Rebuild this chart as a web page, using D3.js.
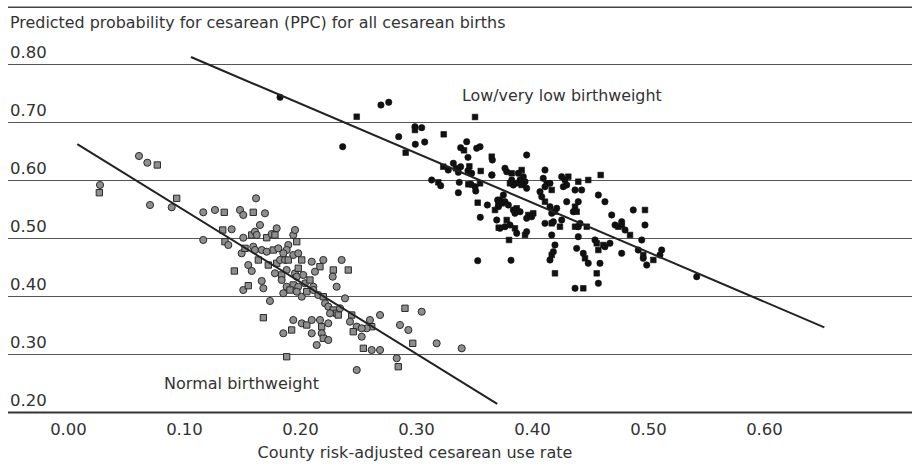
<!DOCTYPE html>
<html><head><meta charset="utf-8">
<script src="https://cdn.jsdelivr.net/npm/d3@7/dist/d3.min.js"></script>
<style>body{margin:0;background:#fff}svg{display:block}text{font-family:"DejaVu Sans",sans-serif;fill:#333}</style>
</head><body><svg id="c" width="912" height="466"></svg>
<script>
const title = "Predicted probability for cesarean (PPC) for all cesarean births";
const xTitle = "County risk-adjusted cesarean use rate";
const xTicks = [0, 0.1, 0.2, 0.3, 0.4, 0.5, 0.6];
const yTicks = [0.2, 0.3, 0.4, 0.5, 0.6, 0.7, 0.8];
const seriesNames = ["Low/very low birthweight", "Normal birthweight"];
const lowFit = [[0.106, 0.812], [0.652, 0.346]];
const normalFit = [[0.008, 0.662], [0.370, 0.214]];
const lowPoints = [
[0.1828,0.7426],[0.2489,0.7091],[0.2698,0.7293],[0.2765,0.7340],[0.3509,0.7086],[0.2368,0.6574],
[0.2991,0.6919],[0.2991,0.6862],[0.3049,0.6902],[0.2851,0.6747],[0.3239,0.6788],[0.2994,0.6616],
[0.3075,0.6655],[0.2911,0.6471],[0.3437,0.6660],[0.3385,0.6557],[0.3414,0.6512],[0.3523,0.6547],
[0.3552,0.6574],[0.3653,0.6402],[0.3658,0.6345],[0.3448,0.6391],[0.3235,0.6229],[0.3278,0.6172],
[0.3322,0.6288],[0.3345,0.6202],[0.3365,0.6133],[0.3385,0.6229],[0.3460,0.6236],[0.3480,0.6116],
[0.3448,0.6160],[0.3558,0.6155],[0.3655,0.6086],[0.3135,0.6000],[0.3192,0.5960],[0.3213,0.5902],
[0.3373,0.5960],[0.3451,0.5926],[0.3474,0.5926],[0.3509,0.5884],[0.3552,0.5943],[0.3515,0.5810],
[0.3365,0.5781],[0.3532,0.5609],[0.3615,0.5569],[0.3704,0.5655],[0.3710,0.5569],[0.3554,0.5357],
[0.3696,0.5310],[0.3713,0.5178],[0.3532,0.4609],[0.3819,0.4616],[0.3802,0.4966],[0.3954,0.6431],
[0.4112,0.6172],[0.4592,0.6086],[0.3767,0.6202],[0.3782,0.6143],[0.3825,0.6116],[0.3653,0.6086],
[0.3882,0.6116],[0.3911,0.6172],[0.3925,0.6057],[0.3897,0.6000],[0.3868,0.5943],[0.3839,0.5914],
[0.3825,0.6000],[0.3810,0.5943],[0.3925,0.5943],[0.3940,0.5971],[0.3911,0.5914],[0.3954,0.5857],
[0.4097,0.6029],[0.4127,0.5943],[0.4112,0.5884],[0.4155,0.5943],[0.4170,0.5828],[0.4256,0.6057],
[0.4284,0.6000],[0.4313,0.6057],[0.4270,0.5884],[0.4299,0.5914],[0.4399,0.5971],[0.4428,0.5828],
[0.4371,0.5828],[0.4485,0.6000],[0.3753,0.5741],[0.3724,0.5655],[0.3739,0.5598],[0.3767,0.5626],
[0.3710,0.5540],[0.3681,0.5483],[0.3796,0.5569],[0.3839,0.5483],[0.3868,0.5512],[0.3897,0.5453],
[0.3853,0.5426],[0.3968,0.5397],[0.3997,0.5367],[0.3954,0.5340],[0.4011,0.5426],[0.4069,0.5798],
[0.4084,0.5712],[0.4112,0.5626],[0.4155,0.5540],[0.4213,0.5512],[0.4198,0.5453],[0.4170,0.5426],
[0.4299,0.5626],[0.4371,0.5540],[0.4399,0.5626],[0.4356,0.5453],[0.4385,0.5453],[0.4572,0.5741],
[0.4629,0.5626],[0.3782,0.5310],[0.3767,0.5195],[0.3724,0.5167],[0.3853,0.5167],[0.3868,0.5081],
[0.3810,0.5224],[0.3940,0.5052],[0.3954,0.5109],[0.4112,0.5253],[0.4170,0.5253],[0.4184,0.5281],
[0.4256,0.5310],[0.4241,0.5195],[0.4170,0.5052],[0.4198,0.4879],[0.4371,0.5195],[0.4399,0.5195],
[0.4414,0.5253],[0.4472,0.5195],[0.4399,0.5022],[0.4543,0.4966],[0.4558,0.4909],[0.4629,0.4850],
[0.4672,0.4909],[0.4572,0.4793],[0.4687,0.5397],[0.4716,0.5224],[0.4744,0.5195],[0.4773,0.5224],
[0.4802,0.5138],[0.4845,0.5052],[0.4773,0.5281],[0.4873,0.5483],[0.4974,0.5483],[0.4974,0.5224],
[0.4946,0.4966],[0.4170,0.4707],[0.4155,0.4621],[0.4184,0.4764],[0.4198,0.4391],[0.4385,0.4822],
[0.4442,0.4736],[0.4457,0.4650],[0.4485,0.4564],[0.4586,0.4564],[0.4558,0.4391],[0.4572,0.4219],
[0.4371,0.4133],[0.4442,0.4133],[0.4773,0.4736],[0.4916,0.4793],[0.4959,0.4707],[0.4959,0.4650],
[0.4989,0.4534],[0.5046,0.4621],[0.5118,0.4793],[0.5103,0.4707],[0.4615,0.4879],[0.5420,0.4333]
];
const normalPoints = [
[0.0276,0.5914],[0.0270,0.5781],[0.0612,0.6414],[0.0684,0.6298],[0.0770,0.6259],[0.0707,0.5569],
[0.0894,0.5529],[0.0937,0.5684],[0.1166,0.5443],[0.1267,0.5483],[0.1347,0.5443],[0.1483,0.5483],
[0.1511,0.5397],[0.1597,0.5443],[0.1621,0.5684],[0.1698,0.5426],[0.1334,0.5138],[0.1411,0.5150],
[0.1166,0.4966],[0.1353,0.4936],[0.1382,0.4879],[0.1511,0.5005],[0.1584,0.5052],[0.1612,0.5109],
[0.1627,0.5052],[0.1713,0.5005],[0.1655,0.5224],[0.1497,0.4736],[0.1526,0.4822],[0.1597,0.4850],
[0.1612,0.4793],[0.1641,0.4621],[0.1670,0.4793],[0.1713,0.4764],[0.1727,0.4534],[0.1554,0.4534],
[0.1584,0.4431],[0.1434,0.4431],[0.1670,0.4259],[0.1511,0.4103],[0.1554,0.4178],[0.1684,0.4133],
[0.1741,0.3914],[0.1684,0.3626],[0.1756,0.5069],[0.1799,0.5167],[0.1784,0.5052],[0.1942,0.5052],
[0.1957,0.5138],[0.1972,0.4936],[0.1899,0.4879],[0.1885,0.4793],[0.1770,0.4793],[0.1813,0.4822],
[0.1856,0.4736],[0.1799,0.4564],[0.1828,0.4621],[0.1871,0.4621],[0.1899,0.4621],[0.1942,0.4707],
[0.1985,0.4736],[0.2015,0.4621],[0.2101,0.4591],[0.2201,0.4621],[0.2172,0.4505],[0.2129,0.4419],
[0.1784,0.4391],[0.1842,0.4362],[0.1885,0.4448],[0.1957,0.4391],[0.1985,0.4478],[0.1972,0.4333],
[0.2028,0.4362],[0.2287,0.4448],[0.2282,0.4333],[0.2359,0.4621],[0.2416,0.4448],[0.1842,0.4276],
[0.1885,0.4160],[0.1942,0.4190],[0.1985,0.4160],[0.2043,0.4219],[0.2086,0.4276],[0.2115,0.4160],
[0.1856,0.4047],[0.1914,0.4103],[0.1972,0.4074],[0.2015,0.3988],[0.2058,0.4074],[0.2115,0.4103],
[0.2158,0.4017],[0.2201,0.3988],[0.2216,0.3874],[0.2244,0.3816],[0.2287,0.3759],[0.2316,0.4160],
[0.2388,0.3960],[0.2316,0.3702],[0.1942,0.3586],[0.2015,0.3529],[0.2058,0.3500],[0.2101,0.3586],
[0.2172,0.3586],[0.2187,0.3471],[0.2244,0.3529],[0.2259,0.3702],[0.2330,0.3672],[0.2345,0.3788],
[0.1856,0.3357],[0.1928,0.3414],[0.2101,0.3357],[0.2187,0.3357],[0.2201,0.3271],[0.2144,0.3155],
[0.2244,0.3241],[0.2446,0.3672],[0.2431,0.3557],[0.2489,0.3471],[0.2459,0.3384],[0.2532,0.3298],
[0.2603,0.3586],[0.2618,0.3471],[0.2690,0.3672],[0.2862,0.3500],[0.2546,0.3098],[0.2618,0.3069],
[0.2690,0.3069],[0.1885,0.2953],[0.2489,0.2724],[0.2834,0.2926],[0.2847,0.2781],[0.2575,0.3443],
[0.2532,0.3443],[0.2905,0.3788],[0.3049,0.3729],[0.2934,0.3414],[0.2972,0.3184],[0.3178,0.3184],
[0.3394,0.3098]
];

const svg = d3.select("#c");
const W = 912;
const x = d3.scaleLinear().domain([0, 0.6]).range([68, 764]);
const y = d3.scaleLinear().domain([0.2, 0.8]).range([412, 64]);

function fit(sel, target) {
  const n = sel.node();
  const fs = parseFloat(sel.style("font-size")) || 16;
  const len = n.getComputedTextLength();
  if (len > 0) sel.style("font-size", (fs * target / len) + "px");
  return sel;
}

// top rule
svg.append("line").attr("x1", 8).attr("x2", W).attr("y1", 7.3).attr("y2", 7.3)
  .attr("stroke", "#444").attr("stroke-width", 1.5);

// title
fit(svg.append("text").attr("x", 10).attr("y", 28).style("font-size", "15px").text(title), 496);

// y axis with gridlines
const yAxis = svg.append("g").attr("transform", "translate(8,0)")
  .call(d3.axisRight(y).tickValues(yTicks).tickSize(W - 8).tickFormat(d3.format(".2f")));
yAxis.select(".domain").remove();
yAxis.selectAll(".tick line").attr("stroke", d => d === 0.2 ? "#333" : "#555")
  .attr("stroke-width", d => d === 0.2 ? 2 : 1.2);
yAxis.selectAll(".tick text").attr("x", 2).attr("dy", -7).attr("text-anchor", "start")
  .attr("fill", "#333").style("font-family", "DejaVu Sans").style("font-size", "16.5px");

// x axis labels
const xAxis = svg.append("g").attr("transform", "translate(0,412)")
  .call(d3.axisBottom(x).tickValues(xTicks).tickSize(0).tickFormat(d3.format(".2f")));
xAxis.select(".domain").remove();
xAxis.selectAll(".tick text").attr("y", 11).attr("dy", "0.71em")
  .attr("fill", "#333").style("font-family", "DejaVu Sans").style("font-size", "16.5px");

// x title
fit(svg.append("text").attr("x", 415).attr("y", 458).attr("text-anchor", "middle")
  .style("font-size", "15px").text(xTitle), 315);

// points
const shapes = [d3.symbolCircle, d3.symbolSquare, d3.symbolCircle];
svg.append("g").selectAll("path").data(normalPoints).join("path")
  .attr("transform", d => `translate(${x(d[0])},${y(d[1])})`)
  .attr("d", (d, i) => d3.symbol().type(shapes[i % 3]).size(40)())
  .attr("fill", "#8e8e8e").attr("stroke", "#2a2a2a").attr("stroke-width", 1);
svg.append("g").selectAll("path").data(lowPoints).join("path")
  .attr("transform", d => `translate(${x(d[0])},${y(d[1])})`)
  .attr("d", (d, i) => d3.symbol().type(shapes[i % 3]).size(32)())
  .attr("fill", "#111").attr("stroke", "#111").attr("stroke-width", 0.6);

// fit lines
const line = d3.line().x(d => x(d[0])).y(d => y(d[1]));
svg.append("path").attr("d", line(lowFit)).attr("stroke", "#222").attr("stroke-width", 2).attr("fill", "none");
svg.append("path").attr("d", line(normalFit)).attr("stroke", "#222").attr("stroke-width", 2).attr("fill", "none");

// series labels
fit(svg.append("text").attr("x", 462).attr("y", 101).style("font-size", "15px").text(seriesNames[0]), 200);
fit(svg.append("text").attr("x", 164).attr("y", 389).style("font-size", "15px").text(seriesNames[1]), 155);
</script></body></html>
